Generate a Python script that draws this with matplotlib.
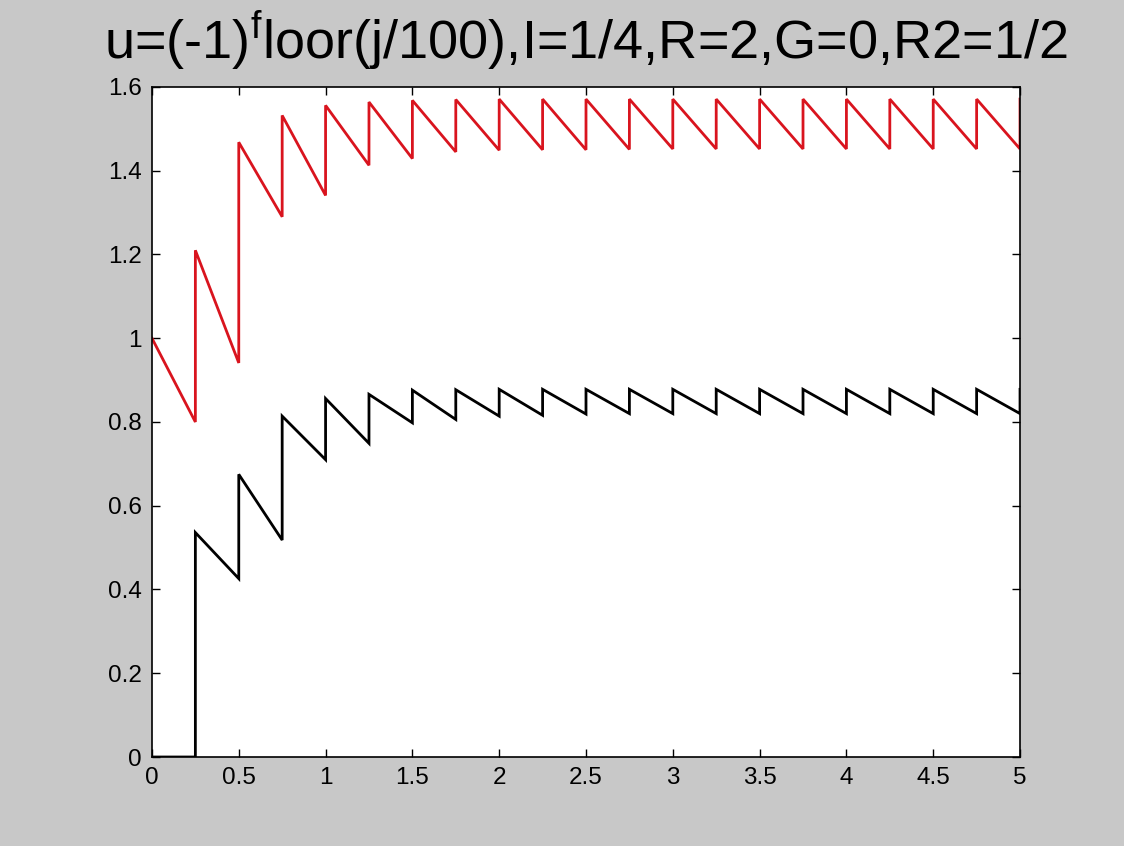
import numpy as np
import matplotlib
matplotlib.use("Agg")
import matplotlib.pyplot as plt

plt.rcParams['font.family'] = ['Liberation Sans', 'DejaVu Sans']
plt.rcParams['mathtext.fontset'] = 'custom'
plt.rcParams['mathtext.rm'] = 'Liberation Sans'
plt.rcParams['mathtext.it'] = 'Liberation Sans'

# segment boundaries (period 0.25)
seg_edges = [0, 0.25, 0.5, 0.75, 1.0, 1.25, 1.5, 1.75, 2.0, 2.25, 2.5, 2.75,
             3.0, 3.25, 3.5, 3.75, 4.0, 4.25, 4.5, 4.75, 5.0]

# red series: value at start and end of each segment, plus final jump value
red_start = [1.0, 1.21, 1.468, 1.532, 1.556, 1.564, 1.568, 1.570, 1.571, 1.571,
             1.571, 1.571, 1.571, 1.571, 1.571, 1.571, 1.571, 1.571, 1.571, 1.571]
red_end = [0.80, 0.941, 1.29, 1.341, 1.413, 1.429, 1.445, 1.449, 1.450, 1.450,
           1.451, 1.452, 1.452, 1.452, 1.452, 1.452, 1.452, 1.452, 1.452, 1.452]
red_final = 1.571

# black series
black_start = [0.0, 0.536, 0.675, 0.814, 0.856, 0.866, 0.876, 0.877, 0.878, 0.878,
               0.878, 0.878, 0.878, 0.878, 0.878, 0.878, 0.878, 0.878, 0.878, 0.878]
black_end = [0.0, 0.426, 0.518, 0.710, 0.749, 0.798, 0.806, 0.814, 0.816, 0.819,
             0.820, 0.820, 0.820, 0.820, 0.820, 0.820, 0.820, 0.820, 0.820, 0.820]
black_final = 0.878

x_ticks = [0, 0.5, 1, 1.5, 2, 2.5, 3, 3.5, 4, 4.5, 5]
x_labels = ['0', '0.5', '1', '1.5', '2', '2.5', '3', '3.5', '4', '4.5', '5']
y_ticks = [0, 0.2, 0.4, 0.6, 0.8, 1.0, 1.2, 1.4, 1.6]
y_labels = ['0', '0.2', '0.4', '0.6', '0.8', '1', '1.2', '1.4', '1.6']

title = r"u=(-1)$^{\mathrm{f}}$loor(j/100),I=1/4,R=2,G=0,R2=1/2"


def build(starts, ends, final):
    xs, ys = [], []
    for k in range(len(starts)):
        xs += [seg_edges[k], seg_edges[k + 1]]
        ys += [starts[k], ends[k]]
    xs.append(seg_edges[-1])
    ys.append(final)
    return xs, ys


fig = plt.figure(figsize=(11.24, 8.46), dpi=100, facecolor='#c8c8c8')
ax = fig.add_axes([0.1352, 0.1052, 0.7723, 0.7920])
ax.set_facecolor('white')

bx, by = build(black_start, black_end, black_final)
rx, ry = build(red_start, red_end, red_final)
ax.plot(bx, by, color='black', lw=2.0, solid_joinstyle='miter')
ax.plot(rx, ry, color='#d9141e', lw=2.0, solid_joinstyle='miter')

ax.set_xlim(0, 5)
ax.set_ylim(0, 1.6)
ax.set_xticks(x_ticks)
ax.set_xticklabels(x_labels)
ax.set_yticks(y_ticks)
ax.set_yticklabels(y_labels)
ax.tick_params(direction='in', length=6, width=1, top=True, right=True,
               labelsize=17.5, colors='black')
ax.tick_params(axis='x', pad=7)
ax.tick_params(axis='y', pad=7.5)
for s in ax.spines.values():
    s.set_linewidth(1.2)
    s.set_color('black')

ax.set_title(title, fontsize=39, pad=20)

fig.savefig('out.png', dpi=100, facecolor=fig.get_facecolor())
